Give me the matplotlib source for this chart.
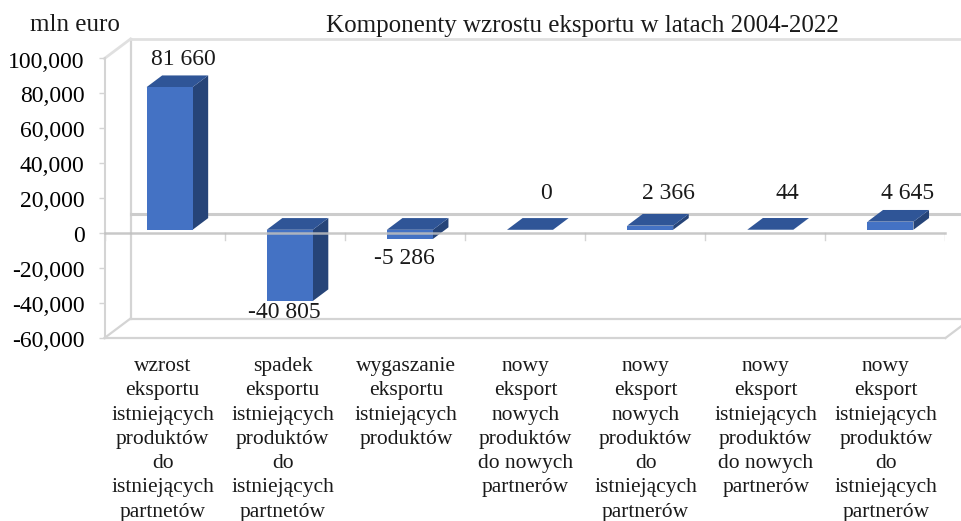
"""Export growth components 2004-2022: Excel-style pseudo-3D column chart."""

import matplotlib

matplotlib.use("Agg")
import matplotlib.pyplot as plt
from matplotlib.patches import Polygon
from matplotlib.transforms import ScaledTranslation, blended_transform_factory

CATEGORIES = [
    "wzrost\neksportu\nistniejących\nproduktów\ndo\nistniejących\npartnetów",
    "spadek\neksportu\nistniejących\nproduktów\ndo\nistniejących\npartnetów",
    "wygaszanie\neksportu\nistniejących\nproduktów",
    "nowy\neksport\nnowych\nproduktów\ndo nowych\npartnerów",
    "nowy\neksport\nnowych\nproduktów\ndo\nistniejących\npartnerów",
    "nowy\neksport\nistniejących\nproduktów\ndo nowych\npartnerów",
    "nowy\neksport\nistniejących\nproduktów\ndo\nistniejących\npartnerów",
]
VALUES = [81660, -40805, -5286, 0, 2366, 44, 4645]
Y_TICKS = [-60000, -40000, -20000, 0, 20000, 40000, 60000, 80000, 100000]

W, H = 962, 521
X0, X1 = 104.5, 945.5   # front axis extent, px
Y_TOP, Y_BOT = 58.5, 338.0
PX_PER_CAT = (X1 - X0) / len(VALUES)
PX_PER_UNIT = (Y_BOT - Y_TOP) / (Y_TICKS[-1] - Y_TICKS[0])

# depth offsets, px converted to data units
WALL_DX, WALL_DY = 26 / PX_PER_CAT, 19.5 / PX_PER_UNIT
BAR_DX0, BAR_DY0 = 5 / PX_PER_CAT, 3.4 / PX_PER_UNIT
BAR_DX, BAR_DY = 15.6 / PX_PER_CAT, 11.7 / PX_PER_UNIT
BAR_W = 46 / PX_PER_CAT

FRONT, TOP, SIDE = "#4472C4", "#2F5597", "#264478"
GRID = "#D4D4D4"
AXIS = "#BFBFBF"

# label offsets from category centre / value, in px (x right, y up)
LABEL_POS = [(19, 31), (0, -8), (0, -16), (21, 0), (23, 0), (22, 0), (22, 0)]
SMALL_LABEL_Y = 22800
# category label x shift from category centre, px
CAT_SHIFT = [-2, -2, 1, 0.5, 0.5, 0.5, 0.5]

plt.rcParams["font.family"] = ["Liberation Serif", "DejaVu Serif"]
plt.rcParams["text.color"] = "#1a1a1a"

fig = plt.figure(figsize=(W / 100, H / 100), dpi=100)
ax = fig.add_axes([X0 / W, 1 - Y_BOT / H, (X1 - X0) / W, (Y_BOT - Y_TOP) / H])
ax.set_xlim(0, len(VALUES))
ax.set_ylim(Y_TICKS[0], Y_TICKS[-1])
for name in ("top", "right", "bottom"):
    ax.spines[name].set_visible(False)
ax.spines["left"].set_color(GRID)
ax.spines["left"].set_linewidth(1.5)
ax.patch.set_visible(False)

ax.set_yticks(Y_TICKS)
ax.set_yticklabels([f"{v:,}" for v in Y_TICKS], fontsize=17)
ax.tick_params(axis="y", length=4.3, width=1, color=GRID, pad=10)
ax.set_xticks([])
for lbl in ax.get_yticklabels():
    lbl.set_transform(lbl.get_transform()
                      + ScaledTranslation(0, -1 / 100, fig.dpi_scale_trans))

# chart walls
ymin, ymax = Y_TICKS[0], Y_TICKS[-1]
n = len(VALUES)
lw = dict(color=GRID, lw=1.6, clip_on=False, zorder=1)
ax.plot([WALL_DX, WALL_DX], [ymin + WALL_DY, ymax + WALL_DY], **lw)
ax.plot([WALL_DX, n + WALL_DX], [ymax + WALL_DY] * 2, color="#E0E0E0", lw=2,
        clip_on=False, zorder=1)
ax.plot([WALL_DX, n + WALL_DX], [ymin + WALL_DY] * 2, **lw)
ax.plot([0, n], [ymin, ymin], **lw)
ax.plot([0, WALL_DX], [ymin, ymin + WALL_DY], **lw)
ax.plot([0, WALL_DX], [ymax, ymax + WALL_DY], color="#E0E0E0", lw=2,
        clip_on=False, zorder=1)
ax.plot([n, n + WALL_DX], [ymin, ymin + WALL_DY], **lw)
ax.plot([WALL_DX, n + WALL_DX], [WALL_DY, WALL_DY], color="#CCCCCC", lw=2.2,
        clip_on=False, zorder=1)

# columns
for i, v in enumerate(VALUES):
    x0 = i + 0.5 - BAR_W / 2 + BAR_DX0
    x1 = x0 + BAR_W
    hi = BAR_DY0 + max(v, 0)
    lo = BAR_DY0 + min(v, 0)
    ax.add_patch(Polygon([(x1, lo), (x1 + BAR_DX, lo + BAR_DY),
                          (x1 + BAR_DX, hi + BAR_DY), (x1, hi)],
                         fc=SIDE, ec="none", zorder=3))
    ax.add_patch(Polygon([(x0, hi), (x0 + BAR_DX, hi + BAR_DY),
                          (x1 + BAR_DX, hi + BAR_DY), (x1, hi)],
                         fc=TOP, ec="none", zorder=3))
    if v != 0:
        ax.add_patch(Polygon([(x0, lo), (x1, lo), (x1, hi), (x0, hi)],
                             fc=FRONT, ec="none", zorder=4))

# front zero line and category ticks
ax.plot([0, n], [0, 0], color=AXIS, lw=1.8, clip_on=False, zorder=5, alpha=0.85)
for i in range(n + 1):
    ax.plot([i, i], [0, -6.5 / PX_PER_UNIT], color=GRID, lw=1, zorder=2)

# value labels
for i, (v, offset) in enumerate(zip(VALUES, LABEL_POS)):
    text = f"{v:,}".replace(",", " ")
    y = v if abs(v) > 5000 or v < 0 else SMALL_LABEL_Y
    ax.annotate(text, xy=(i + 0.5, y), xytext=offset, textcoords="offset pixels",
                ha="center", va="center", fontsize=17, zorder=6)

# category labels
label_trans = blended_transform_factory(ax.transData, fig.transFigure)
for i, (label, shift) in enumerate(zip(CATEGORIES, CAT_SHIFT)):
    ax.text(i + 0.5 + shift / PX_PER_CAT, 1 - 357 / H, label, ha="center", va="top",
            transform=label_trans, fontsize=15.5, linespacing=1.378)

fig.text(30 / W, 1 - 25 / H, "mln euro", fontsize=18, ha="left", va="center")
fig.text(582 / W, 1 - 26 / H, "Komponenty wzrostu eksportu w latach 2004-2022",
         fontsize=18, ha="center", va="center")

fig.savefig("out.png", dpi=100)
